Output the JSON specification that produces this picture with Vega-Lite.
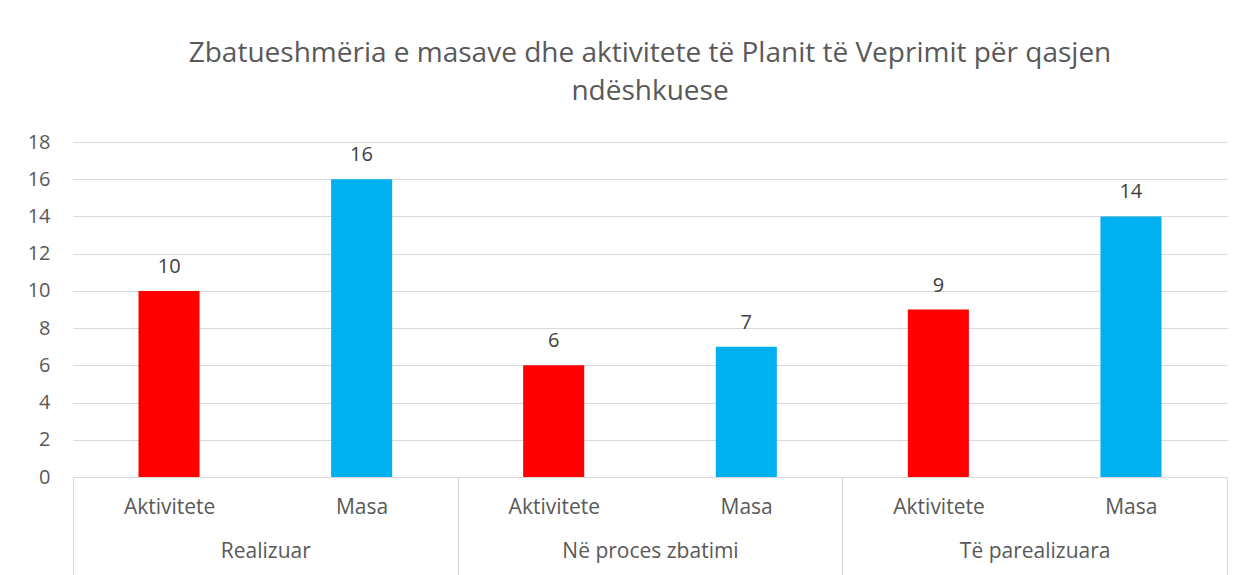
{
  "$schema": "https://vega.github.io/schema/vega-lite/v6.json",
  "width": 1154,
  "height": 335,
  "autosize": {"type": "none"},
  "padding": {"left": 73, "top": 142, "right": 19, "bottom": 98},
  "background": "white",
  "title": {
    "text": ["Zbatueshmëria e masave dhe aktivitete të Planit të Veprimit për qasjen", "ndëshkuese"],
    "font": "Open Sans",
    "fontSize": 28,
    "fontWeight": "normal",
    "color": "#595959",
    "lineHeight": 38,
    "offset": 26,
    "anchor": "middle"
  },
  "config": {"view": {"stroke": null}, "font": "Open Sans"},
  "data": {
    "values": [
      {"group": "Realizuar", "type": "Aktivitete", "key": "Realizuar|Aktivitete", "value": 10},
      {"group": "Realizuar", "type": "Masa", "key": "Realizuar|Masa", "value": 16},
      {"group": "Në proces zbatimi", "type": "Aktivitete", "key": "Në proces zbatimi|Aktivitete", "value": 6},
      {"group": "Në proces zbatimi", "type": "Masa", "key": "Në proces zbatimi|Masa", "value": 7},
      {"group": "Të parealizuara", "type": "Aktivitete", "key": "Të parealizuara|Aktivitete", "value": 9},
      {"group": "Të parealizuara", "type": "Masa", "key": "Të parealizuara|Masa", "value": 14}
    ]
  },
  "encoding": {
    "y": {
      "field": "value",
      "type": "quantitative",
      "scale": {"domain": [0, 18]},
      "axis": {
        "values": [0, 2, 4, 6, 8, 10, 12, 14, 16, 18],
        "labelOverlap": false,
        "title": null,
        "domain": false,
        "ticks": false,
        "labelPadding": 23,
        "labelFontSize": 20,
        "labelColor": "#595959",
        "gridColor": "#d9d9d9",
        "gridWidth": 1
      }
    }
  },
  "layer": [
    {
      "mark": {"type": "bar"},
      "encoding": {
        "x": {
          "field": "group",
          "type": "nominal",
          "sort": ["Realizuar", "Në proces zbatimi", "Të parealizuara"],
          "scale": {"paddingInner": 0, "paddingOuter": 0},
          "axis": {
            "orient": "bottom",
            "title": null,
            "domain": false,
            "grid": false,
            "labelAngle": 0,
            "labelPadding": -37,
            "labelFontSize": 21,
            "labelColor": "#595959",
            "tickBand": "extent",
            "tickSize": 100,
            "tickColor": "#d9d9d9",
            "tickWidth": 1
          }
        },
        "xOffset": {
          "field": "type",
          "type": "nominal",
          "sort": ["Aktivitete", "Masa"],
          "scale": {"paddingInner": 0.683, "paddingOuter": 0.34}
        },
        "color": {
          "field": "type",
          "type": "nominal",
          "scale": {"domain": ["Aktivitete", "Masa"], "range": ["#FF0000", "#00B0F0"]},
          "legend": null
        }
      }
    },
    {
      "mark": {"type": "text", "baseline": "alphabetic", "dy": -18, "fontSize": 20, "color": "#404040"},
      "encoding": {
        "x": {
          "field": "key",
          "type": "nominal",
          "sort": ["Realizuar|Aktivitete", "Realizuar|Masa", "Në proces zbatimi|Aktivitete", "Në proces zbatimi|Masa", "Të parealizuara|Aktivitete", "Të parealizuara|Masa"],
          "scale": {"paddingInner": 0, "paddingOuter": 0},
          "axis": {
            "orient": "bottom",
            "title": null,
            "domain": true,
            "domainColor": "#d9d9d9",
            "domainWidth": 1,
            "ticks": false,
            "grid": false,
            "labelAngle": 0,
            "labelPadding": 19,
            "labelExpr": "split(datum.value, '|')[1]",
            "labelFontSize": 21,
            "labelColor": "#595959"
          }
        },
        "text": {"field": "value", "type": "quantitative"}
      }
    }
  ],
  "resolve": {"scale": {"x": "independent"}, "axis": {"x": "independent"}}
}
